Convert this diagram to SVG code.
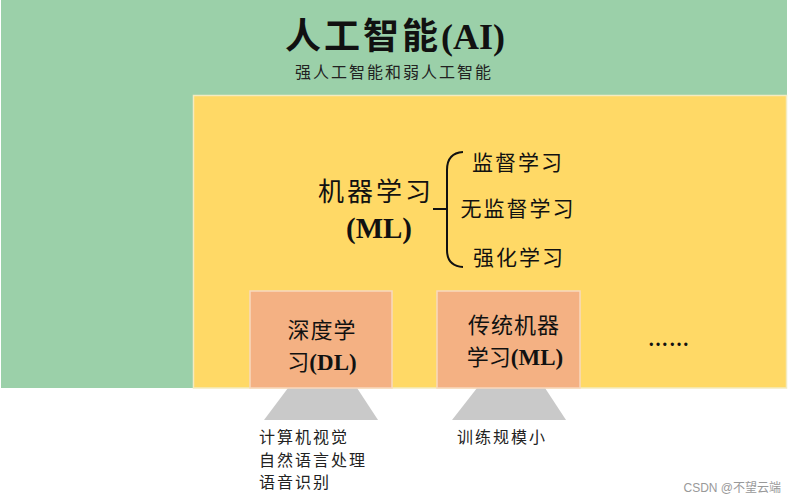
<svg xmlns="http://www.w3.org/2000/svg" width="789" height="500" viewBox="0 0 789 500">
<style>
.t{font-family:"Liberation Serif","Noto Sans CJK SC",serif;fill:#111;}
.c{font-family:"Noto Sans CJK SC","Liberation Serif",sans-serif;fill:#111;}
.s{font-family:"Noto Sans CJK SC",sans-serif;fill:#222;font-size:16px;letter-spacing:2px;}
.box{fill:#F4B183;stroke:#F8D9BE;stroke-width:1.5;}
.trap{fill:#C9C9C9;}
</style>
<rect width="789" height="500" fill="#ffffff"/>
<g id="ai">
<rect x="1" y="0" width="786" height="388" fill="#9BD0A9"/>
<text class="t" x="395" y="49" text-anchor="middle" font-size="36" font-weight="bold"><tspan class="c" font-weight="bold" letter-spacing="3">人工智能</tspan>(AI)</text>
<text class="s" x="394" y="78" text-anchor="middle" font-size="16">强人工智能和弱人工智能</text>
</g>
<g id="ml">
<rect x="193.5" y="95.5" width="593" height="292.5" fill="#FFD966" stroke="#F3EBC0" stroke-width="1.5"/>
<text class="c" x="376" y="201" text-anchor="middle" font-size="26" letter-spacing="3">机器学习</text>
<text class="t" x="379" y="238" text-anchor="middle" font-size="29" font-weight="bold">(ML)</text>
</g>
<g id="connectors">
<path d="M433 209 H446 M463 152 Q447 153 447 170 V250 Q447 266 463 267" fill="none" stroke="#111" stroke-width="2"/>
<polygon class="trap" points="288,388 357,388 378,420 264,420"/>
<polygon class="trap" points="477,388 545,388 566,420 452,420"/>
</g>
<g id="supervised"><text class="c" x="518" y="170" text-anchor="middle" font-size="21" letter-spacing="2">监督学习</text></g>
<g id="unsupervised"><text class="c" x="518" y="216" text-anchor="middle" font-size="21" letter-spacing="2">无监督学习</text></g>
<g id="reinforcement"><text class="c" x="519" y="265" text-anchor="middle" font-size="21" letter-spacing="2">强化学习</text></g>
<g id="dl">
<rect class="box" x="250" y="291" width="142" height="97"/>
<text class="c" x="322" y="338" text-anchor="middle" font-size="22" letter-spacing="1">深度学</text>
<text class="t" x="322" y="370" text-anchor="middle" font-size="23" font-weight="bold"><tspan class="c" font-weight="normal" font-size="22">习</tspan>(DL)</text>
</g>
<g id="tml">
<rect class="box" x="437" y="291" width="143" height="97"/>
<text class="c" x="514" y="333" text-anchor="middle" font-size="22" letter-spacing="1">传统机器</text>
<text class="t" x="515" y="365" text-anchor="middle" font-size="23" font-weight="bold"><tspan class="c" font-weight="normal" font-size="22">学习</tspan>(ML)</text>
</g>
<g id="more"><text class="t" x="669" y="346" text-anchor="middle" font-size="20" font-weight="bold" letter-spacing="1">……</text></g>
<g id="dl-apps">
<text class="s" x="259" y="443">计算机视觉</text>
<text class="s" x="259" y="466">自然语言处理</text>
<text class="s" x="259" y="488">语音识别</text>
</g>
<g id="tml-apps"><text class="s" x="457" y="443">训练规模小</text></g>
<text x="781" y="492" text-anchor="end" font-family="Liberation Sans,Noto Sans CJK SC,sans-serif" font-size="12" fill="#999">CSDN @不望云端</text>
</svg>
